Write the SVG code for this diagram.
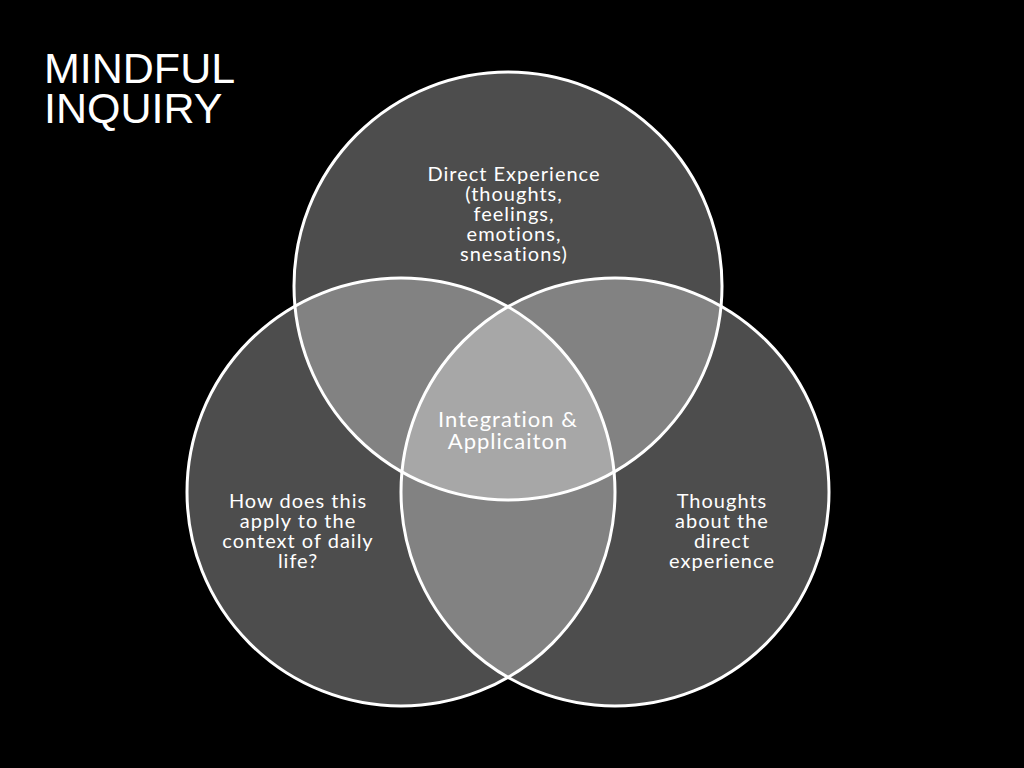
<svg xmlns="http://www.w3.org/2000/svg" width="1024" height="768" viewBox="0 0 1024 768">
<style>
.c{fill:#fff;fill-opacity:0.3;stroke:none}
.o{fill:none;stroke:#fff;stroke-width:3}
.t{font-family:Lato,"Open Sans",sans-serif;font-size:20px;letter-spacing:1px;font-variant-ligatures:none;fill:#fff;text-anchor:middle}
.h{font-family:"Liberation Sans",Arial,sans-serif;font-size:43px;fill:#fff}
</style>
<rect width="1024" height="768" fill="#000"/>
<g id="title"><text class="h" x="44" y="83">MINDFUL</text><text class="h" x="44" y="123">INQUIRY</text></g>
<g id="fills">
<circle class="c" cx="508" cy="286" r="214"/>
<circle class="c" cx="401" cy="492" r="214"/>
<circle class="c" cx="615" cy="492" r="214"/>
</g>
<g id="outlines">
<circle class="o" cx="508" cy="286" r="214"/>
<circle class="o" cx="401" cy="492" r="214"/>
<circle class="o" cx="615" cy="492" r="214"/>
</g>
<g id="top"><text class="t" x="514" y="181">Direct Experience<tspan x="514" dy="20">(thoughts,</tspan><tspan x="514" dy="20">feelings,</tspan><tspan x="514" dy="20">emotions,</tspan><tspan x="514" dy="20">snesations)</tspan></text></g>
<g id="center"><text class="t" style="font-size:22px" x="508" y="427">Integration &amp;<tspan x="508" dy="22">Applicaiton</tspan></text></g>
<g id="left"><text class="t" x="298" y="508">How does this<tspan x="298" dy="20">apply to the</tspan><tspan x="298" dy="20">context of daily</tspan><tspan x="298" dy="20">life?</tspan></text></g>
<g id="right"><text class="t" x="722" y="508">Thoughts<tspan x="722" dy="20">about the</tspan><tspan x="722" dy="20">direct</tspan><tspan x="722" dy="20">experience</tspan></text></g>
</svg>
